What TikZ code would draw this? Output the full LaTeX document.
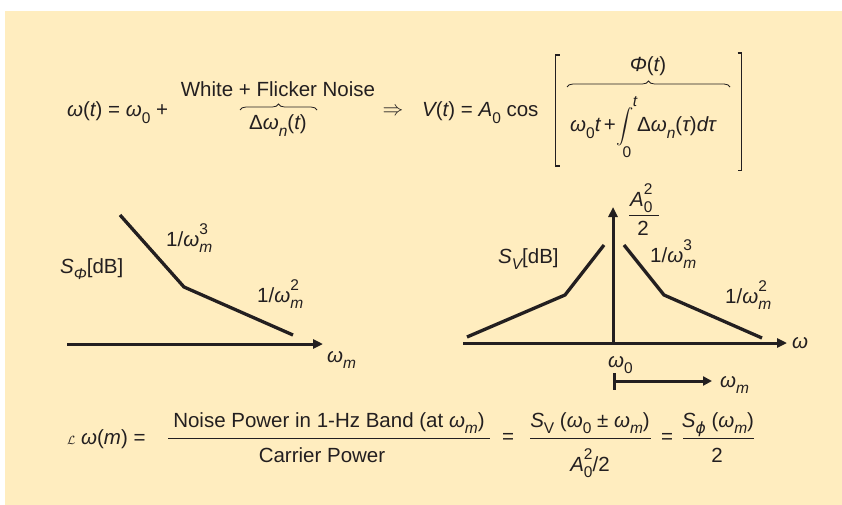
\documentclass[tikz,border=0pt]{standalone}
\usepackage{fontspec}
\usepackage{amsmath}
\setmainfont{Liberation Sans}
\newfontfamily\dejavu{DejaVu Sans}
\usetikzlibrary{arrows.meta,decorations.pathreplacing}
\definecolor{bg}{HTML}{FFEDBF}
\definecolor{ink}{HTML}{231F20}
\newcommand\sbx[1]{\raisebox{-0.3em}{\fontsize{15.5}{16}\selectfont #1}}
\newcommand\spx[1]{\raisebox{0.55em}{\fontsize{15.5}{16}\selectfont #1}}
\newcommand\ssp[2]{\makebox[0pt][l]{\spx{#2}}\sbx{#1}}
\newcommand\iw{{\itshape ω}}
\begin{document}
\begin{tikzpicture}[x=1pt,y=-1pt,
  every node/.style={inner sep=0pt, text=ink, font=\fontsize{20.5}{24}\selectfont},
  small/.style={font=\fontsize{15.5}{16}\selectfont},
  curve/.style={line width=3.3pt, draw=ink, line join=miter},
  axis/.style={line width=3pt, draw=ink, -{Triangle[length=10pt,width=9pt]}},
  fracline/.style={line width=0.9pt, draw=ink},
  bracket/.style={line width=1.3pt, draw=ink},
  obrace/.style={decorate, decoration={brace, amplitude=6pt}, line width=0.8pt, draw=ink}]
\useasboundingbox (0,0) rectangle (842,505);
\fill[bg] (5,11) rectangle (842,505);

% ---- top equation
\node[anchor=base west] (wt) at (67,117) {\iw({\itshape t}) = \iw\sbx{0} +};
\node (wfn) at (278,89) {White + Flicker Noise};
\coordinate (b1l) at (240,110); \coordinate (b1r) at (317,110);
\draw[obrace] (b1l) -- (b1r);
\node[anchor=base] (dw) at (278,130) {Δ\iw\sbx{{\itshape n}}({\itshape t})};
\node (imp) at (393,112) {$\Rightarrow$};
\node[anchor=base west] (vt) at (422,117) {{\itshape V}({\itshape t}) = {\itshape A}\sbx{0} cos};

\coordinate (lbt) at (555.5,55); \coordinate (lbb) at (555.5,166);
\draw[bracket] ([xshift=4pt]lbt) -- (lbt) -- (lbb) -- ([xshift=4pt]lbb);
\coordinate (rbt) at (741.5,53); \coordinate (rbb) at (741.5,170.5);
\draw[bracket] ([xshift=-4pt]rbt) -- (rbt) -- (rbb) -- ([xshift=-4pt]rbb);

\node[anchor=base] (phi) at (648,72) {{\itshape Φ}({\itshape t})};
\coordinate (b2l) at (567,87); \coordinate (b2r) at (730,87);
\draw[obrace] (b2l) -- (b2r);
\node[anchor=base west] (w0t) at (570,132) {\iw\sbx{0}{\itshape t}\,+};
\node (int) at (625,127) {\fontsize{18}{18}\selectfont$\displaystyle\int$};
\node[small] (tl) at (635,102) {\itshape t};
\node[small] (zl) at (627,152) {0};
\node[anchor=base west] (dwt) at (637,132) {Δ\iw\sbx{{\itshape n}}({\itshape τ}){\itshape dτ}};

% ---- left graph
\coordinate (la0) at (67,344); \coordinate (la1) at (323,344);
\draw[axis] (la0) -- (la1);
\node[anchor=base west] (lwm) at (327,362) {\iw\sbx{{\itshape m}}};
\coordinate (lc1) at (120,215); \coordinate (lc2) at (184,287); \coordinate (lc3) at (293,335);
\draw[curve] (lc1) -- (lc2) -- (lc3);
\node[anchor=base west] (l3) at (166,246) {1/\iw\ssp{{\itshape m}}{3}};
\node[anchor=base west] (lsp) at (60,273) {{\itshape S}\sbx{{\itshape Φ}}[dB]};
\node[anchor=base west] (l2) at (257,302) {1/\iw\ssp{{\itshape m}}{2}};

% ---- right graph
\coordinate (ra0) at (463,343); \coordinate (ra1) at (787,343);
\draw[axis] (ra0) -- (ra1);
\node[anchor=base west] (rw) at (792,348) {\iw};
\coordinate (va0) at (613,344.5); \coordinate (va1) at (613,207);
\draw[axis] (va0) -- (va1);
\coordinate (rl1) at (467,337); \coordinate (rl2) at (565,295); \coordinate (rl3) at (604,245);
\draw[curve] (rl1) -- (rl2) -- (rl3);
\coordinate (rr1) at (624,245); \coordinate (rr2) at (664,295); \coordinate (rr3) at (762,338);
\draw[curve] (rr1) -- (rr2) -- (rr3);
\node[anchor=base west] (sv) at (498,263) {{\itshape S}\sbx{{\itshape V}}[dB]};
\node[anchor=base west] (r3) at (650,262) {1/\iw\ssp{{\itshape m}}{3}};
\node[anchor=base west] (r2) at (725,303) {1/\iw\ssp{{\itshape m}}{2}};
\node[anchor=base west] (rw0) at (608,367) {\iw\sbx{0}};
\coordinate (wm0) at (613,381); \coordinate (wm1) at (712,381);
\draw[line width=3pt, draw=ink, {Bar[width=17pt]}-{Triangle[length=9pt,width=9pt]}] (wm0) -- (wm1);
\node[anchor=base west] (rwm) at (720,387) {\iw\sbx{{\itshape m}}};
\node[anchor=base west] (anum) at (630,206) {{\itshape A}\ssp{0}{2}};
\coordinate (af0) at (629,215); \coordinate (af1) at (659,215);
\draw[fracline] (af0) -- (af1);
\node[anchor=base] (aden) at (643,235) {2};

% ---- bottom equation
\node[anchor=base west] (lw) at (67,444) {{\fontsize{13}{13}\selectfont$\mathcal{L}$}\ \iw({\itshape m}) =};
\coordinate (f1a) at (168,438); \coordinate (f1b) at (490,438);
\draw[fracline] (f1a) -- (f1b);
\node[anchor=base] (n1) at (329,427) {Noise Power in 1-Hz Band (at \iw\sbx{{\itshape m}})};
\node[anchor=base] (d1) at (322,462) {Carrier Power};
\node (eq1) at (508,438) {=};
\coordinate (f2a) at (530,438); \coordinate (f2b) at (651,438);
\draw[fracline] (f2a) -- (f2b);
\node[anchor=base] (n2) at (590,427) {{\itshape S}\sbx{V} (\iw\sbx{0} ± \iw\sbx{{\itshape m}})};
\node[anchor=base] (d2) at (590,471) {{\itshape A}\ssp{0}{2}/2};
\node (eq2) at (667,438) {=};
\coordinate (f3a) at (683,438); \coordinate (f3b) at (754,438);
\draw[fracline] (f3a) -- (f3b);
\node[anchor=base] (n3) at (718,427) {{\itshape S}\sbx{\dejavu\itshape ϕ} (\iw\sbx{{\itshape m}})};
\node[anchor=base] (d3) at (717,462) {2};
\end{tikzpicture}
\end{document}
